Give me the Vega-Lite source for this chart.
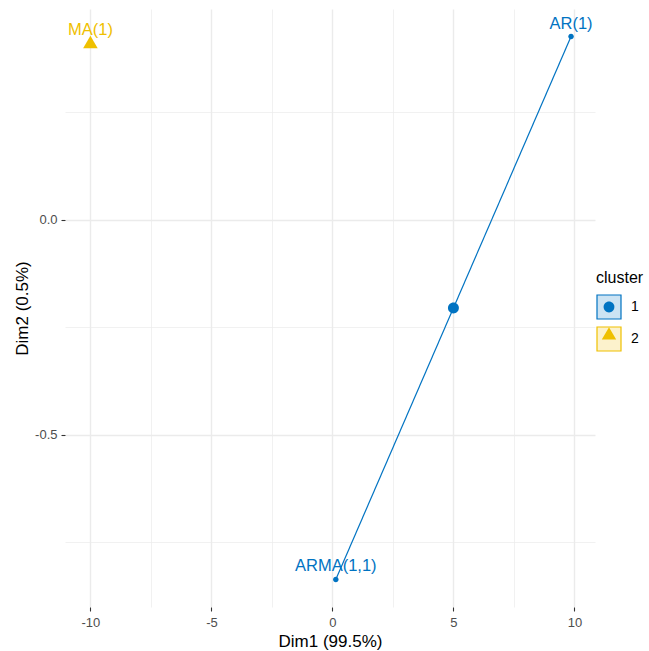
{
  "$schema": "https://vega.github.io/schema/vega-lite/v6.json",
  "width": 530,
  "height": 598,
  "autosize": "none",
  "padding": {"left": 65, "top": 9, "right": 54, "bottom": 44},
  "background": "white",
  "config": {
    "view": {"stroke": null},
    "font": "Liberation Sans",
    "text": {"font": "Liberation Sans"}
  },
  "datasets": {
    "obs": [
      {"name": "AR(1)", "dim1": 9.86, "dim2": 0.426, "cluster": "1", "grp": "1"},
      {"name": "ARMA(1,1)", "dim1": 0.14, "dim2": -0.836, "cluster": "1", "grp": "1"},
      {"name": "MA(1)", "dim1": -10, "dim2": 0.412, "cluster": "2", "grp": "2"}
    ],
    "centers": [
      {"dim1": 5.0, "dim2": -0.205, "grp": "1"},
      {"dim1": -10, "dim2": 0.412, "grp": "2"}
    ]
  },
  "encoding": {
    "x": {
      "field": "dim1",
      "type": "quantitative",
      "scale": {"domain": [-11.05, 10.85], "nice": false, "zero": false},
      "axis": {
        "title": "Dim1 (99.5%)",
        "values": [-10, -7.5, -5, -2.5, 0, 2.5, 5, 7.5, 10],
        "domain": false,
        "grid": true,
        "gridColor": "#EBEBEB",
        "gridWidth": {"condition": {"test": "datum.value % 5 === 0", "value": 1.4}, "value": 0.7},
        "tickColor": "#333333",
        "tickSize": 4,
        "tickWidth": 1.1,
        "tickOpacity": {"condition": {"test": "datum.value % 5 === 0", "value": 1}, "value": 0},
        "labelExpr": "datum.value % 5 === 0 ? toString(datum.value) : ''",
        "labelColor": "#4D4D4D",
        "labelFont": "Liberation Sans",
        "labelFontSize": 13,
        "labelPadding": 5,
        "labelFlush": false,
        "labelOverlap": false,
        "titleFont": "Liberation Sans",
        "titleFontSize": 17,
        "titleFontWeight": "normal",
        "titleColor": "#000000",
        "titlePadding": 4
      }
    },
    "y": {
      "field": "dim2",
      "type": "quantitative",
      "scale": {"domain": [-0.9, 0.49], "nice": false, "zero": false},
      "axis": {
        "title": "Dim2 (0.5%)",
        "values": [0.25, 0, -0.25, -0.5, -0.75],
        "domain": false,
        "grid": true,
        "gridColor": "#EBEBEB",
        "gridWidth": {"condition": {"test": "abs(datum.value) % 0.5 < 1e-6", "value": 1.4}, "value": 0.7},
        "tickColor": "#333333",
        "tickSize": 4,
        "tickWidth": 1.1,
        "tickOpacity": {"condition": {"test": "abs(datum.value) % 0.5 < 1e-6", "value": 1}, "value": 0},
        "labelExpr": "datum.value === 0 ? '0.0' : (abs(datum.value + 0.5) < 1e-6 ? '-0.5' : '')",
        "labelColor": "#4D4D4D",
        "labelFont": "Liberation Sans",
        "labelFontSize": 13,
        "labelPadding": 4,
        "labelFlush": false,
        "labelOverlap": false,
        "titleFont": "Liberation Sans",
        "titleFontSize": 17,
        "titleFontWeight": "normal",
        "titleColor": "#000000",
        "titlePadding": 3
      }
    }
  },
  "layer": [
    {
      "data": {"name": "obs"},
      "mark": {"type": "line", "strokeWidth": 1.2},
      "encoding": {
        "order": {"field": "dim1", "type": "quantitative"},
        "stroke": {
          "field": "cluster",
          "type": "nominal",
          "scale": {"range": ["#0073C2", "#EFC000"]},
          "legend": {
            "title": "cluster",
            "orient": "none",
            "legendX": 531,
            "legendY": 261,
            "padding": 0,
            "symbolType": "square",
            "symbolSize": 576,
            "symbolStrokeWidth": 1.2,
            "titleFont": "Liberation Sans",
            "titleFontSize": 16,
            "titleFontWeight": "normal",
            "titleColor": "#000000",
            "titlePadding": 8,
            "labelFont": "Liberation Sans",
            "labelFontSize": 14,
            "labelColor": "#000000",
            "labelOffset": 9,
            "rowPadding": 2,
            "encode": {
              "symbols": {
                "update": {
                  "fill": {"scale": "stroke", "field": "value"},
                  "fillOpacity": {"value": 0.2},
                  "stroke": {"scale": "stroke", "field": "value"},
                  "strokeOpacity": {"value": 1},
                  "opacity": {"value": 1}
                }
              }
            }
          }
        }
      }
    },
    {
      "data": {"name": "obs"},
      "mark": {"type": "point", "filled": true, "opacity": 1, "size": 150},
      "encoding": {
        "color": {
          "field": "grp",
          "type": "nominal",
          "scale": {"domain": ["1", "2"], "range": ["#0073C2", "#EFC000"]},
          "legend": {
            "title": null,
            "orient": "none",
            "legendX": 531,
            "legendY": 285,
            "padding": 0,
            "symbolSize": 576,
            "symbolStrokeWidth": 1.2,
            "symbolOpacity": 1,
            "labelExpr": "''",
            "labelFontSize": 14,
            "labelOffset": 9,
            "rowPadding": 2
          }
        },
        "shape": {
          "field": "grp",
          "type": "nominal",
          "scale": {"domain": ["1", "2"], "range": [
            "M-1,-1M1,1M0.45,0A0.45,0.45,0,1,1,-0.45,0A0.45,0.45,0,1,1,0.45,0Z",
            "M-1,-1M1,1M0,-0.56L0.6,0.46L-0.6,0.46Z"
          ]},
          "legend": {
            "title": null,
            "orient": "none",
            "legendX": 531,
            "legendY": 285,
            "padding": 0,
            "symbolSize": 576,
            "symbolStrokeWidth": 1.2,
            "symbolOpacity": 1,
            "labelExpr": "''",
            "labelFontSize": 14,
            "labelOffset": 9,
            "rowPadding": 2
          }
        }
      }
    },
    {
      "data": {"name": "centers"},
      "mark": {"type": "point", "filled": true, "opacity": 1, "size": 590},
      "encoding": {
        "color": {"field": "grp", "type": "nominal"},
        "shape": {"field": "grp", "type": "nominal"}
      }
    },
    {
      "data": {"name": "obs"},
      "mark": {"type": "text", "align": "center", "baseline": "alphabetic", "dy": -8, "fontSize": 16.5, "font": "Liberation Sans"},
      "encoding": {
        "text": {"field": "name", "type": "nominal"},
        "color": {"field": "grp", "type": "nominal", "legend": null}
      }
    }
  ]
}
